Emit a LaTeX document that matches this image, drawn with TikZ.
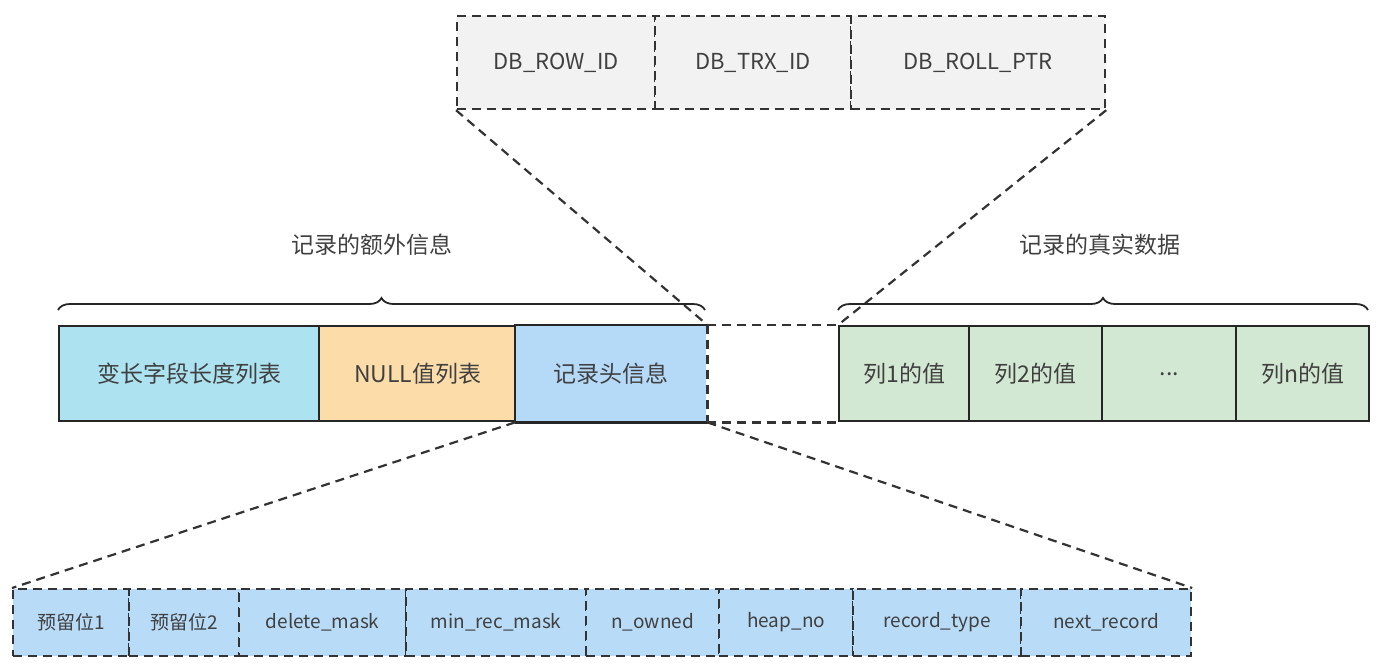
\documentclass[tikz,border=0pt]{standalone}
\usepackage{fontspec}
\setmainfont{Noto Sans CJK SC}
\usetikzlibrary{decorations.pathreplacing}
\begin{document}
\begin{tikzpicture}[x=1pt,y=-1pt,
 cell/.style={draw=black!85,line width=2.4pt,minimum height=95pt,inner sep=0pt,font=\fontsize{23}{25}\selectfont,text=black!75,anchor=north west},
 top/.style={draw=black!80,dash pattern=on 9pt off 6pt,line width=2.2pt,fill=black!5,minimum height=93pt,inner sep=0pt,font=\fontsize{22}{24}\selectfont,text=black!75,anchor=north west},
 bot/.style={draw=black!80,dash pattern=on 9pt off 6pt,line width=2.2pt,fill=cb,minimum height=67pt,inner sep=0pt,font=\fontsize{19}{21}\selectfont,text=black!75,anchor=north west},
 dl/.style={draw=black!80,dash pattern=on 9pt off 6pt,line width=2.2pt},
 br/.style={draw=black!85,line width=1.8pt,decorate,decoration={brace,amplitude=12pt}},
 lab/.style={font=\fontsize{23}{25}\selectfont,text=black!75}]
\useasboundingbox (0,0) rectangle (1384,667);
\definecolor{c1}{HTML}{ADE3F0}\definecolor{c2}{HTML}{FCDDAA}\definecolor{c3}{HTML}{B5DAF8}\definecolor{cg}{HTML}{D3E8D2}\definecolor{cb}{HTML}{B8DCF8}
\node[cell,fill=c1,minimum width=260pt] (a) at (58,325) {变长字段长度列表};
\node[cell,fill=c2,minimum width=197pt] (b) at (318,325) {NULL值列表};
\node[cell,fill=c3,draw=none,minimum width=190pt] (c) at (515,325) {记录头信息};
\draw[black!85,line width=2.4pt] (c.south west)--(c.north west)--(c.north east);
\draw[black!85,line width=2.4pt] (c.south west)--(c.south east);
\node[cell,fill=cg,minimum width=130pt] (g1) at (838,325) {列1的值};
\node[cell,fill=cg,minimum width=133pt] (g2) at (968,325) {列2的值};
\node[cell,fill=cg,minimum width=134pt] (g3) at (1101,325) {...};
\node[cell,fill=cg,minimum width=133pt] (g4) at (1235,325) {列n的值};
\draw[dl] (c.north east)--(g1.north west) (c.south east)--(g1.south west) (c.north east)--(c.south east);
\node[top,minimum width=198pt] (t1) at (456,15) {DB\_ROW\_ID};
\node[top,minimum width=196pt] (t2) at (654,15) {DB\_TRX\_ID};
\node[top,minimum width=254pt] (t3) at (850,15) {DB\_ROLL\_PTR};
\draw[dl] (t1.south west)--(c.north east) (t3.south east)--(g1.north west);
\node[bot,minimum width=116pt] (s1) at (12,588) {预留位1};
\node[bot,minimum width=110pt] (s2) at (128,588) {预留位2};
\node[bot,minimum width=167pt] (s3) at (238,588) {delete\_mask};
\node[bot,minimum width=180pt] (s4) at (405,588) {min\_rec\_mask};
\node[bot,minimum width=133pt] (s5) at (585,588) {n\_owned};
\node[bot,minimum width=134pt] (s6) at (718,588) {heap\_no};
\node[bot,minimum width=168pt] (s7) at (852,588) {record\_type};
\node[bot,minimum width=170pt] (s8) at (1020,588) {next\_record};
\draw[dl] (c.south west)--(s1.north west) (c.south east)--(s8.north east);
\draw[br] (58,310)--(705,310);
\draw[br] (838,310)--(1368,310);
\node[lab] (l1) at (372,245) {记录的额外信息};
\node[lab] (l2) at (1100,245) {记录的真实数据};
\end{tikzpicture}
\end{document}
